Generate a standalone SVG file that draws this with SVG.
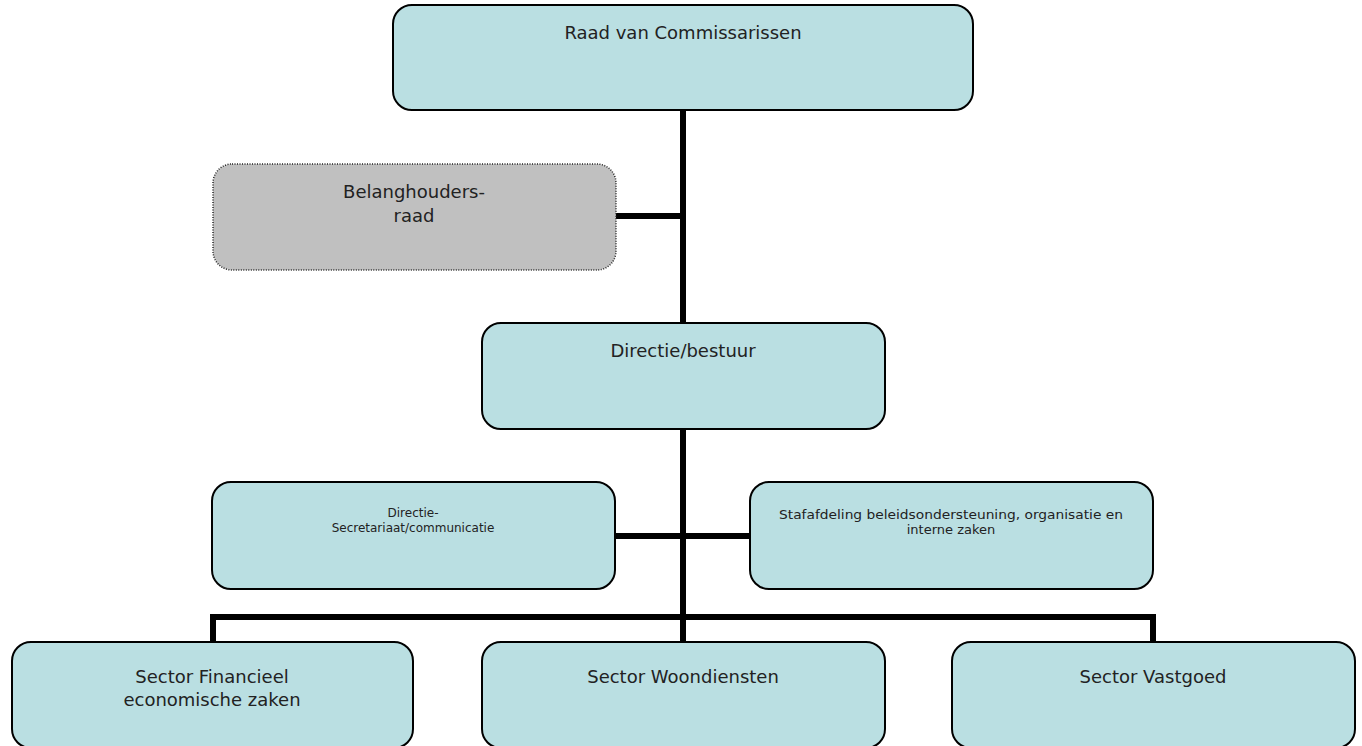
<svg xmlns="http://www.w3.org/2000/svg" width="1362" height="746" viewBox="0 0 1362 746">
<style>
.box{fill:#badfe2;stroke:#000;stroke-width:2}
.grey{fill:#c0c0c0;stroke:#222;stroke-width:1.5;stroke-dasharray:1 1.5}
.conn{fill:none;stroke:#000;stroke-width:6}
text{font-family:"DejaVu Sans",sans-serif;fill:#222;text-anchor:middle}
.t{font-size:18px}
.s{font-size:12px}
.s2{font-size:13px}
</style>
<rect width="1362" height="746" fill="#fff"/>
<g id="connectors">
<path class="conn" d="M683,110 V617"/>
<path class="conn" d="M616,216 H683"/>
<path class="conn" d="M615,536 H750"/>
<path class="conn" d="M213,642 V617 H1153 V642"/>
<path class="conn" d="M683,617 V642"/>
</g>
<g id="raad">
<rect class="box" x="393" y="5" width="580" height="105" rx="19"/>
<text class="t" x="683" y="39">Raad van Commissarissen</text>
</g>
<g id="belanghoudersraad">
<rect class="grey" x="213" y="164" width="403" height="106" rx="19"/>
<text class="t" x="414" y="198">Belanghouders-</text>
<text class="t" x="414" y="222">raad</text>
</g>
<g id="directie">
<rect class="box" x="482" y="323" width="403" height="106" rx="19"/>
<text class="t" x="683" y="357">Directie/bestuur</text>
</g>
<g id="secretariaat">
<rect class="box" x="212" y="482" width="403" height="107" rx="19"/>
<text class="s" x="413" y="517">Directie-</text>
<text class="s" x="413" y="532">Secretariaat/communicatie</text>
</g>
<g id="stafafdeling">
<rect class="box" x="750" y="482" width="403" height="107" rx="19"/>
<text class="s2" x="951" y="519" textLength="344" lengthAdjust="spacingAndGlyphs">Stafafdeling beleidsondersteuning, organisatie en</text>
<text class="s2" x="951" y="534">interne zaken</text>
</g>
<g id="financieel">
<rect class="box" x="12" y="642" width="401" height="106" rx="19"/>
<text class="t" x="212" y="683">Sector Financieel</text>
<text class="t" x="212" y="706">economische zaken</text>
</g>
<g id="woondiensten">
<rect class="box" x="482" y="642" width="403" height="106" rx="19"/>
<text class="t" x="683" y="683">Sector Woondiensten</text>
</g>
<g id="vastgoed">
<rect class="box" x="952" y="642" width="403" height="106" rx="19"/>
<text class="t" x="1153" y="683">Sector Vastgoed</text>
</g>
</svg>
